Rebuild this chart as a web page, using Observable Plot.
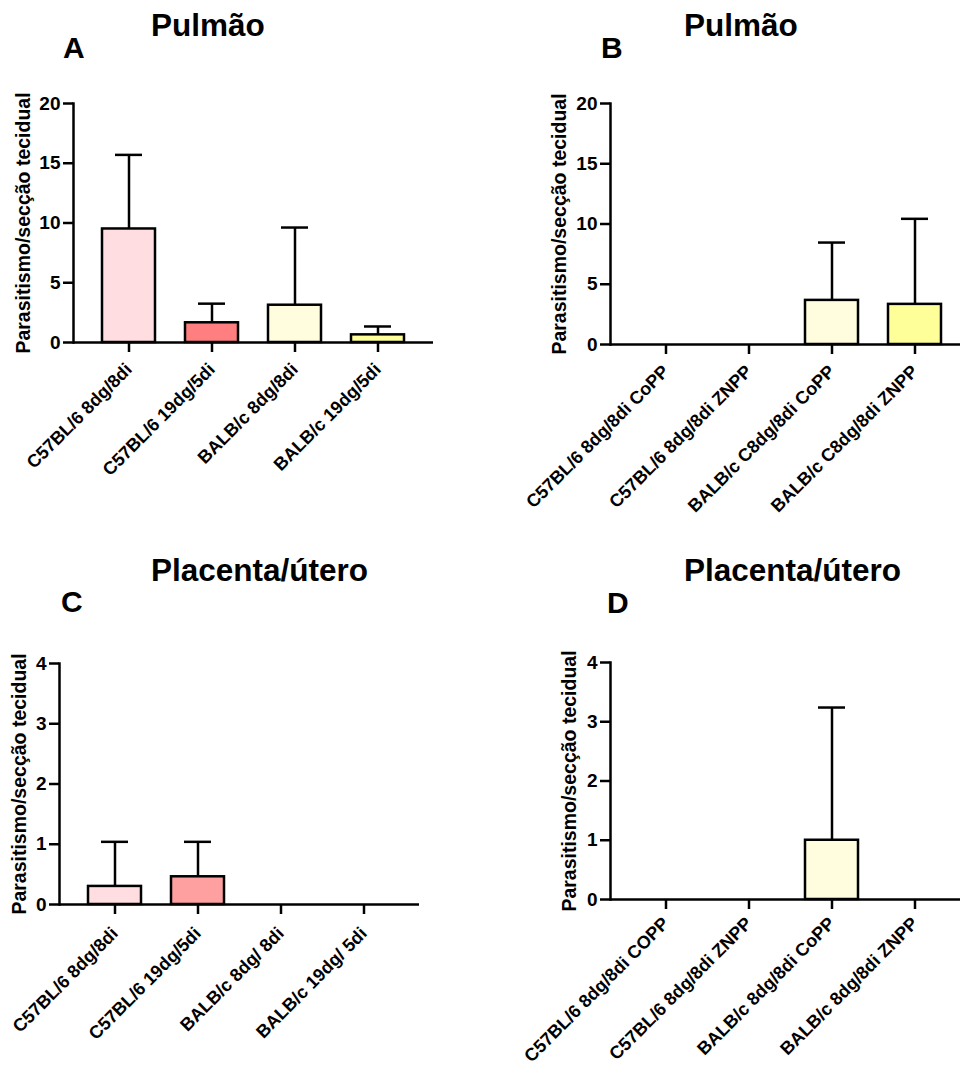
<!DOCTYPE html>
<html>
<head>
<meta charset="utf-8">
<script src="https://cdn.jsdelivr.net/npm/d3@7"></script>
<script src="https://cdn.jsdelivr.net/npm/@observablehq/plot@0.6"></script>
<style>
  html, body { margin: 0; padding: 0; background: #fff; }
  #root { position: relative; width: 960px; height: 1070px; overflow: hidden; background: #fff;
          font-family: "Liberation Sans", Arial, sans-serif; font-weight: bold; color: #000; }
  .panel { position: absolute; }
  .panel svg { max-width: none !important; }
  .title { position: absolute; font-size: 31.5px; line-height: 31.5px; white-space: nowrap; }
  .letter { position: absolute; font-size: 30px; line-height: 30px; white-space: nowrap; }
</style>
</head>
<body>
<div id="root"></div>
<script>
// ---------- data ----------
const yLabel = "Parasitismo/secção tecidual";

const titleTop = "Pulmão";
const titleBottom = "Placenta/útero";

const groupsA = ["C57BL/6 8dg/8di", "C57BL/6 19dg/5di", "BALB/c 8dg/8di", "BALB/c 19dg/5di"];
const meansA = [9.5, 1.65, 3.12, 0.64];
const sdA = [6.2, 1.6, 6.5, 0.7];
const colorsA = ["#FFDDE0", "#FF7F80", "#FFFDDD", "#FFFF99"];

const groupsB = ["C57BL/6 8dg/8di CoPP", "C57BL/6 8dg/8di ZNPP", "BALB/c C8dg/8di CoPP", "BALB/c C8dg/8di ZNPP"];
const meansB = [0, 0, 3.66, 3.33];
const sdB = [0, 0, 4.8, 7.1];
const colorsB = ["#FFDDE0", "#FF7F80", "#FFFDDD", "#FFFF99"];

const groupsC = ["C57BL/6 8dg/8di", "C57BL/6 19dg/5di", "BALB/c 8dg/ 8di", "BALB/c 19dg/ 5di"];
const meansC = [0.30, 0.46, 0, 0];
const sdC = [0.74, 0.58, 0, 0];
const colorsC = ["#FFDDE0", "#FFA0A0", "#FFFDDD", "#FFFF99"];

const groupsD = ["C57BL/6 8dg/8di COPP", "C57BL/6 8dg/8di ZNPP", "BALB/c 8dg/8di CoPP", "BALB/c 8dg/8di ZNPP"];
const meansD = [0, 0, 1.0, 0];
const sdD = [0, 0, 2.24, 0];
const colorsD = ["#FFDDE0", "#FF7F80", "#FFFDDD", "#FFFF99"];

const ticksTop = [0, 5, 10, 15, 20];
const ticksBottom = [0, 1, 2, 3, 4];

// ---------- drawing ----------
function rows(groups, means, sds, colors) {
  return groups.map((g, i) => ({group: g, value: means[i], sd: sds[i], upper: means[i] + sds[i], color: colors[i]}));
}

function panel({groups, means, sds, colors, ticks, width, height, mL, mR, mT, mB, labelOffset, xPad}) {
  const data = rows(groups, means, sds, colors);
  const shown = data.filter(d => d.value > 0);
  const withErr = shown.filter(d => d.sd > 0);
  return Plot.plot({
    width, height,
    marginLeft: mL, marginRight: mR, marginTop: mT, marginBottom: mB,
    style: {fontFamily: "'Liberation Sans', Arial, sans-serif", fontWeight: "bold", fontSize: "18px", color: "#000", background: "transparent", overflow: "visible", maxWidth: "none"},
    x: {domain: groups, paddingInner: 0.363, paddingOuter: 0.345},
    y: {domain: [ticks[0], ticks[ticks.length - 1]]},
    color: {type: "identity"},
    marks: [
      Plot.ruleX(withErr, {x: "group", y1: "value", y2: "upper", stroke: "#000", strokeWidth: 2.5}),
      Plot.tickY(withErr, {x: "group", y: "upper", stroke: "#000", strokeWidth: 2.5, insetLeft: 13, insetRight: 13}),
      Plot.barY(shown, {x: "group", y: "value", fill: "color", stroke: "#000", strokeWidth: 2.5}),
      Plot.ruleY([0], {stroke: "#000", strokeWidth: 2.5}),
      Plot.frame({anchor: "left", stroke: "#000", strokeWidth: 2.5}),
      Plot.axisY({ticks, tickFormat: d3.format("d"), tickSize: 10, tickPadding: 3, strokeWidth: 2.5, fontSize: 19, label: null}),
      Plot.axisX({tickSize: 10, tickPadding: xPad, tickRotate: -45, strokeWidth: 2.5, fontSize: 18, label: null}),
      Plot.text([yLabel], {text: d => d, frameAnchor: "left", rotate: -90, dx: -labelOffset, lineAnchor: "top", textAnchor: "middle", fontSize: 19.5, fontWeight: "bold", fill: "#000"})
    ]
  });
}

const root = document.getElementById("root");
function place(el, left, top, w, h) {
  const d = document.createElement("div");
  d.className = "panel";
  d.style.left = left + "px";
  d.style.top = top + "px";
  d.style.width = w + "px";
  d.style.height = h + "px";
  d.appendChild(el);
  root.appendChild(d);
}
function text(cls, str, left, top) {
  const d = document.createElement("div");
  d.className = cls;
  d.textContent = str;
  d.style.left = left + "px";
  d.style.top = top + "px";
  root.appendChild(d);
}

place(panel({groups: groupsA, means: meansA, sds: sdA, colors: colorsA, ticks: ticksTop,
  width: 480, height: 540, mL: 73, mR: 47, mT: 103, mB: 198, labelOffset: 57, xPad: 14}), 0, 0, 480, 540);
place(panel({groups: groupsB, means: meansB, sds: sdB, colors: colorsB, ticks: ticksTop,
  width: 490, height: 540, mL: 130, mR: 0, mT: 103, mB: 196, labelOffset: 58, xPad: 14}), 480, 0, 490, 540);
place(panel({groups: groupsC, means: meansC, sds: sdC, colors: colorsC, ticks: ticksBottom,
  width: 480, height: 530, mL: 59, mR: 61, mT: 123, mB: 166, labelOffset: 47, xPad: 16}), 0, 540, 480, 530);
place(panel({groups: groupsD, means: meansD, sds: sdD, colors: colorsD, ticks: ticksBottom,
  width: 490, height: 530, mL: 130, mR: 0, mT: 122, mB: 171, labelOffset: 48, xPad: 11}), 480, 540, 490, 530);

text("title", titleTop, 151, 10);
text("letter", "A", 63, 33);
text("title", titleTop, 684, 10);
text("letter", "B", 601, 33);
text("title", titleBottom, 151, 555);
text("letter", "C", 61, 587);
text("title", titleBottom, 684, 555);
text("letter", "D", 607, 588);
</script>
</body>
</html>
